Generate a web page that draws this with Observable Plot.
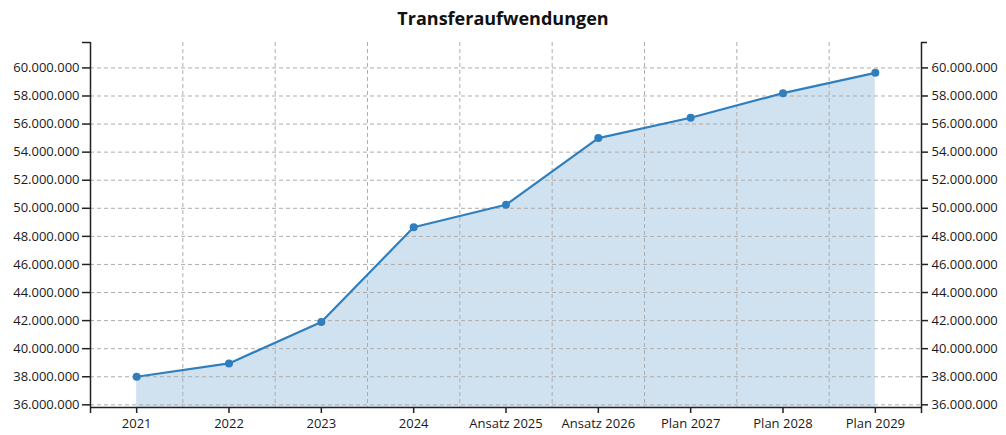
<!DOCTYPE html>
<html><head><meta charset="utf-8">
<script src="https://cdn.jsdelivr.net/npm/d3@7"></script>
<script src="https://cdn.jsdelivr.net/npm/@observablehq/plot@0.6"></script>
<style>
body{margin:0;background:#fff;font-family:"Open Sans",sans-serif;}
#title{height:36px;line-height:37px;text-align:center;font-weight:bold;font-size:18px;color:#111;}
</style></head><body>
<div id="title">Transferaufwendungen</div>
<div id="chart"></div>
<script>
const categories = ["2021","2022","2023","2024","Ansatz 2025","Ansatz 2026","Plan 2027","Plan 2028","Plan 2029"];
const values = [38000000, 38950000, 41900000, 48650000, 50250000, 55000000, 56450000, 58200000, 59650000];
const yTicks = [36000000, 38000000, 40000000, 42000000, 44000000, 46000000, 48000000, 50000000, 52000000, 54000000, 56000000, 58000000, 60000000];
const yDomain = [35810000, 61810000];

const fmt = d3.formatLocale({decimal: ",", thousands: ".", grouping: [3], currency: ["", "€"]}).format(",d");
const data = categories.map((c, i) => ({i, c, v: values[i]}));
const n = categories.length;
const xLo = -0.5, xHi = n - 0.5;
const gridX = d3.range(1, n).map(i => i - 0.5);
const grid = {stroke: "#adadad", strokeDasharray: "4,3", strokeWidth: 1};
const axisColor = "#222";
const blue = "#2f7fbf";

const chart = Plot.plot({
  width: 1006, height: 399,
  marginLeft: 90, marginRight: 85, marginTop: 6, marginBottom: 28,
  style: {fontFamily: "Open Sans", fontSize: "13px", color: "#1a1a1a", background: "#fff"},
  x: {type: "linear", domain: [xLo, xHi]},
  y: {type: "linear", domain: yDomain},
  marks: [
    Plot.areaY(data, {x: "i", y1: yDomain[0], y2: "v", fill: "#d0e2f0"}),
    Plot.ruleY(yTicks, grid),
    Plot.ruleX(gridX, grid),
    Plot.lineY(data, {x: "i", y: "v", stroke: blue, strokeWidth: 2.2}),
    Plot.dot(data, {x: "i", y: "v", r: 4, fill: blue}),
    Plot.axisY(yTicks, {anchor: "left", tickFormat: fmt, tickSize: 8, tickPadding: 3, label: null, stroke: axisColor, strokeWidth: 1.5}),
    Plot.axisY(yTicks, {anchor: "right", tickFormat: fmt, tickSize: 6, tickPadding: 4, label: null, stroke: axisColor, strokeWidth: 1.5}),
    Plot.axisX(data.map(d => d.i), {anchor: "bottom", tickFormat: i => categories[i], tickSize: 6, tickPadding: 5, label: null, stroke: axisColor, strokeWidth: 1.5}),
    Plot.ruleX([xLo, xHi], {stroke: axisColor, strokeWidth: 1.5, insetBottom: -6}),
    Plot.ruleY([yDomain[0]], {stroke: axisColor, strokeWidth: 1.5}),
    Plot.ruleY([yDomain[1]], {x1: xLo, x2: xLo, insetLeft: -8, stroke: axisColor, strokeWidth: 1.5}),
    Plot.ruleY([yDomain[1]], {x1: xHi, x2: xHi, insetRight: -6, stroke: axisColor, strokeWidth: 1.5})
  ]
});
document.getElementById("chart").appendChild(chart);
</script>
</body></html>
